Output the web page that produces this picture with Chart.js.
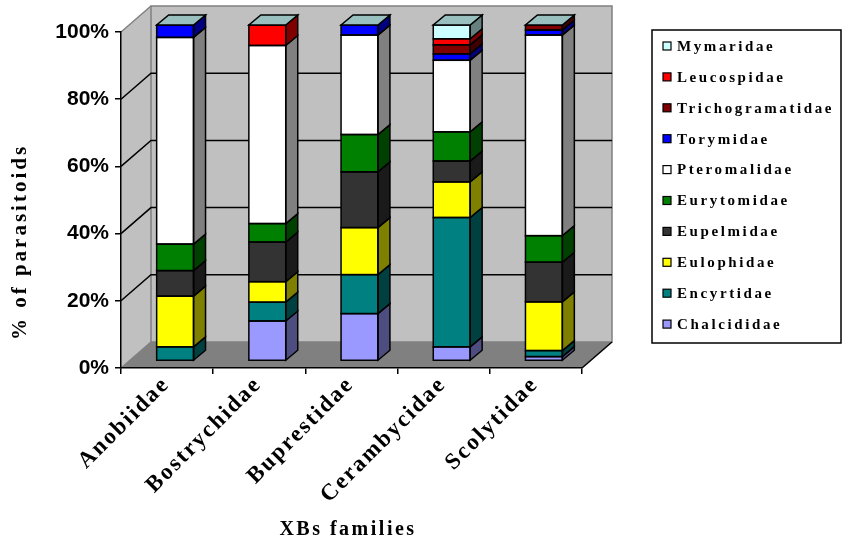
<!DOCTYPE html>
<html>
<head>
<meta charset="utf-8">
<title>Parasitoids by XBs family</title>
<script src="https://cdn.jsdelivr.net/npm/chart.js@4.4.1/dist/chart.umd.min.js"></script>
<style>
  html, body { margin: 0; padding: 0; background: #ffffff; }
  #c { display: block; }
</style>
</head>
<body>
<canvas id="c" width="844" height="542"></canvas>
<script>
// Host families (x axis)
const categories = ['Anobiidae', 'Bostrychidae', 'Buprestidae', 'Cerambycidae', 'Scolytidae'];

// Share of each parasitoid family (%), bottom of the stack first
const chalcididae      = [0,    11.9, 14.1, 4.2,  1.3];
const encyrtidae       = [4.2,  5.6,  11.6, 38.5, 1.8];
const eulophidae       = [15.1, 6.1,  14.0, 10.6, 14.5];
const eupelmidae       = [7.6,  11.8, 16.6, 6.2,  11.8];
const eurytomidae      = [7.9,  5.5,  11.1, 8.7,  7.9];
const pteromalidae     = [61.5, 53.0, 29.6, 21.3, 59.7];
const torymidae        = [3.7,  0,    3.0,  1.9,  1.5];
const trichogramatidae = [0,    0,    0,    2.7,  1.5];
const leucospidae      = [0,    6.1,  0,    1.8,  0];
const mymaridae        = [0,    0,    0,    4.1,  0];

const seriesNames = ['Chalcididae', 'Encyrtidae', 'Eulophidae', 'Eupelmidae', 'Eurytomidae',
                     'Pteromalidae', 'Torymidae', 'Trichogramatidae', 'Leucospidae', 'Mymaridae'];
const seriesValues = [chalcididae, encyrtidae, eulophidae, eupelmidae, eurytomidae,
                      pteromalidae, torymidae, trichogramatidae, leucospidae, mymaridae];

// Y tick values
const yTicks = [0, 20, 40, 60, 80, 100];

// Face colours: front, side (shaded), top (shaded lighter)
const frontColors = ['#9999ff', '#008080', '#ffff00', '#333333', '#008000',
                     '#ffffff', '#0000ff', '#800000', '#ff0000', '#ccffff'];
const sideColors  = ['#4d4d80', '#004040', '#808000', '#1a1a1a', '#004000',
                     '#808080', '#000080', '#400000', '#800000', '#668080'];
const topColors   = ['#7373bf', '#006060', '#bfbf00', '#262626', '#006000',
                     '#bfbfbf', '#0000bf', '#600000', '#bf0000', '#99bfbf'];

// 3-D geometry
const WALL = { dx: 30, dy: -26 };   // depth of the walls / floor
const SHIFT = { dx: 8, dy: -7 };    // columns sit a bit back from the front edge
const BAR = { dx: 12, dy: -10 };    // depth of each column

const SERIF = '"Liberation Serif", "Times New Roman", serif';
const SANS = '"Liberation Sans", Arial, sans-serif';

function poly(ctx, pts) {
  ctx.beginPath();
  ctx.moveTo(pts[0][0], pts[0][1]);
  for (let i = 1; i < pts.length; i++) ctx.lineTo(pts[i][0], pts[i][1]);
  ctx.closePath();
}

const threeD = {
  id: 'threeD',
  beforeDraw(chart) {
    const { ctx, chartArea: a, scales } = chart;
    const L = a.left, R = a.right, T = a.top, B = a.bottom;
    ctx.save();
    // left side wall
    poly(ctx, [[L, B], [L, T], [L + WALL.dx, T + WALL.dy], [L + WALL.dx, B + WALL.dy]]);
    ctx.fillStyle = '#c0c0c0'; ctx.fill();
    // back wall
    ctx.fillStyle = '#c0c0c0';
    ctx.fillRect(L + WALL.dx, T + WALL.dy, R - L, B - T);
    // floor
    poly(ctx, [[L, B], [R, B], [R + WALL.dx, B + WALL.dy], [L + WALL.dx, B + WALL.dy]]);
    ctx.fillStyle = '#808080'; ctx.fill();

    // wall outlines
    ctx.strokeStyle = '#808080'; ctx.lineWidth = 1.5;
    ctx.strokeRect(L + WALL.dx, T + WALL.dy, R - L, B - T);
    ctx.beginPath();
    ctx.moveTo(L, T); ctx.lineTo(L + WALL.dx, T + WALL.dy);
    ctx.moveTo(L, B); ctx.lineTo(L + WALL.dx, B + WALL.dy);
    ctx.stroke();

    // gridlines running along the side wall and across the back wall
    ctx.strokeStyle = '#000000'; ctx.lineWidth = 1.5;
    yTicks.forEach(v => {
      if (v === 0 || v === 100) return;
      const y = scales.y.getPixelForValue(v);
      ctx.beginPath();
      ctx.moveTo(L, y);
      ctx.lineTo(L + WALL.dx, y + WALL.dy);
      ctx.lineTo(R + WALL.dx, y + WALL.dy);
      ctx.stroke();
    });
    // right edge of the floor
    ctx.beginPath();
    ctx.moveTo(R, B); ctx.lineTo(R + WALL.dx, B + WALL.dy);
    ctx.stroke();
    ctx.restore();
  },
  beforeDatasetsDraw(chart) {
    chart.ctx.save();
    chart.ctx.translate(SHIFT.dx, SHIFT.dy);
  },
  afterDatasetsDraw(chart) {
    const ctx = chart.ctx;
    ctx.lineWidth = 1.5;
    ctx.strokeStyle = '#000000';
    ctx.lineJoin = 'miter';
    const n = chart.data.datasets.length;
    for (let d = 0; d < n; d++) {
      const meta = chart.getDatasetMeta(d);
      meta.data.forEach(el => {
        const p = el.getProps(['x', 'y', 'base', 'width'], true);
        const left = p.x - p.width / 2, right = p.x + p.width / 2;
        const top = Math.min(p.y, p.base), bottom = Math.max(p.y, p.base);
        if (bottom - top < 0.3) return;
        // side face
        poly(ctx, [[right, bottom], [right, top], [right + BAR.dx, top + BAR.dy], [right + BAR.dx, bottom + BAR.dy]]);
        ctx.fillStyle = sideColors[d]; ctx.fill(); ctx.stroke();
        // front outline
        ctx.strokeRect(left, top, right - left, bottom - top);
      });
    }
    // top face of every column
    const lastMeta = chart.getDatasetMeta(n - 1);
    lastMeta.data.forEach(el => {
      const p = el.getProps(['x', 'y', 'width'], true);
      const left = p.x - p.width / 2, right = p.x + p.width / 2, top = p.y;
      poly(ctx, [[left, top], [right, top], [right + BAR.dx, top + BAR.dy], [left + BAR.dx, top + BAR.dy]]);
      ctx.fillStyle = topColors[n - 1]; ctx.fill(); ctx.stroke();
    });
    ctx.restore();
  },
  afterDraw(chart) {
    const { ctx, chartArea: a, scales } = chart;
    ctx.save();
    ctx.fillStyle = '#000000';

    // category labels, slanted
    ctx.font = 'bold 23px ' + SERIF;
    ctx.letterSpacing = '2px';
    ctx.textAlign = 'right';
    ctx.textBaseline = 'middle';
    categories.forEach((c, i) => {
      const x = scales.x.getPixelForValue(i);
      ctx.save();
      ctx.translate(x - 1, a.bottom + 13);
      ctx.rotate(-Math.PI / 4);
      ctx.fillText(c, 0, 0);
      ctx.restore();
    });

    // axis titles
    ctx.font = 'bold 20px ' + SERIF;
    ctx.letterSpacing = '2.5px';
    ctx.textAlign = 'center';
    ctx.textBaseline = 'alphabetic';
    ctx.fillText('XBs families', 348, 535);

    ctx.font = 'bold 21px ' + SERIF;
    ctx.letterSpacing = '3px';
    ctx.save();
    ctx.translate(26, 242);
    ctx.rotate(-Math.PI / 2);
    ctx.fillText('% of parasitoids', 0, 0);
    ctx.restore();

    // legend, top entry = top of the stack
    const lx = 652, ly = 30, lw = 189, lh = 313;
    ctx.lineWidth = 1.5;
    ctx.strokeStyle = '#000000';
    ctx.strokeRect(lx, ly, lw, lh);
    ctx.font = 'bold 15px ' + SERIF;
    ctx.letterSpacing = '2.6px';
    ctx.textAlign = 'left';
    ctx.textBaseline = 'middle';
    const ds = chart.data.datasets;
    for (let k = 0; k < ds.length; k++) {
      const d = ds.length - 1 - k;
      const y = 47 + k * 30.9;
      ctx.fillStyle = frontColors[d];
      ctx.fillRect(663, y - 5, 8, 8);
      ctx.lineWidth = 1.2;
      ctx.strokeRect(663, y - 5, 8, 8);
      ctx.fillStyle = '#000000';
      ctx.fillText(ds[d].label, 677, y);
    }
    ctx.restore();
  }
};

new Chart(document.getElementById('c'), {
  type: 'bar',
  data: {
    labels: categories,
    datasets: seriesNames.map((name, i) => ({
      label: name,
      data: seriesValues[i],
      backgroundColor: frontColors[i],
      borderWidth: 0,
      clip: false,
      barPercentage: 0.4,
      categoryPercentage: 1.0
    }))
  },
  options: {
    responsive: false,
    animation: false,
    devicePixelRatio: 1,
    layout: { padding: { left: 0, right: 262, top: 32, bottom: 0 } },
    plugins: { legend: { display: false }, tooltip: { enabled: false } },
    scales: {
      x: {
        stacked: true,
        offset: true,
        afterFit: s => { s.height = 174; },
        ticks: { display: false },
        grid: { offset: true, drawOnChartArea: false, drawTicks: true, tickLength: 6, color: '#000000', lineWidth: 1.5 },
        border: { display: true, color: '#000000', width: 1.5 }
      },
      y: {
        stacked: true,
        min: 0,
        max: 100,
        afterFit: s => { s.width = 121; },
        afterBuildTicks: s => { s.ticks = yTicks.map(v => ({ value: v })); },
        ticks: {
          callback: v => v + '%',
          color: '#000000',
          padding: 6,
          font: { family: SANS, size: 21, weight: 'bold' }
        },
        grid: { drawOnChartArea: false, drawTicks: true, tickLength: 6, color: '#000000', lineWidth: 1.5 },
        border: { display: true, color: '#000000', width: 1.5 }
      }
    }
  },
  plugins: [threeD]
});
</script>
</body>
</html>
